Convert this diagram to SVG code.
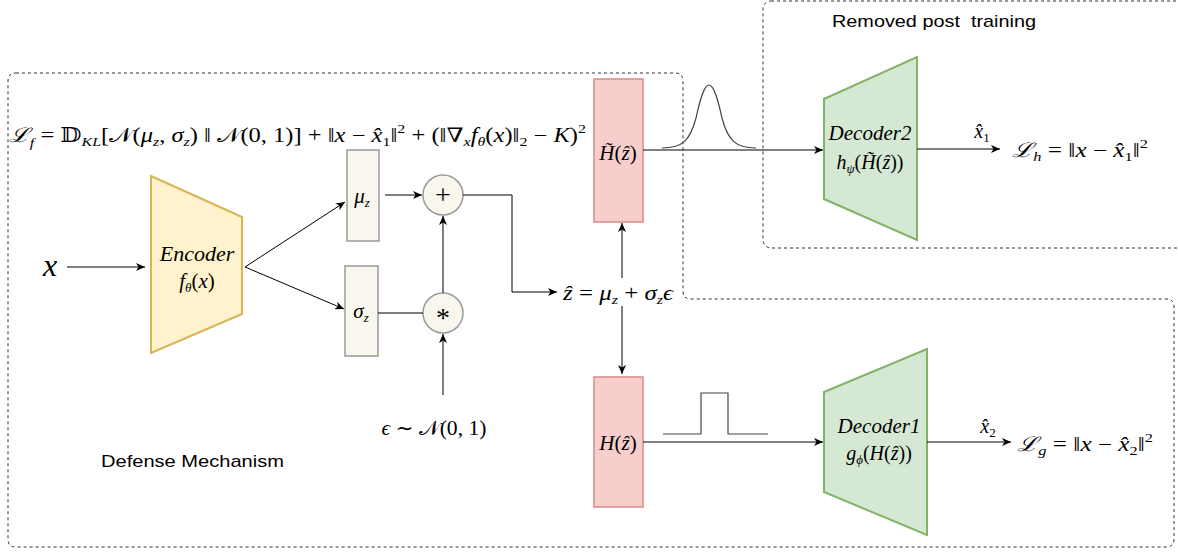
<svg xmlns="http://www.w3.org/2000/svg" width="1178" height="556" viewBox="0 0 1178 556">
<defs>
<marker id="arr" markerUnits="userSpaceOnUse" markerWidth="10" markerHeight="8" refX="9" refY="4" orient="auto">
<path d="M0,0 L9,4 L0,8 L2.5,4 Z" fill="#000"/>
</marker>
<style>
.m{font-family:"Liberation Serif","DejaVu Serif",serif;font-size:20px;fill:#000}
.i{font-style:italic}
.s{font-size:13px}
.sans{font-family:"Liberation Sans",Arial,sans-serif;font-size:17px;fill:#000}
.dash{fill:none;stroke:#333;stroke-width:1;stroke-dasharray:3 3}
.c{fill:none;stroke:#000;stroke-width:1}
.box{fill:#f9f7ed;stroke:#9a9a9a;stroke-width:1.5}
.red{fill:#f8cecc;stroke:#d88b88;stroke-width:1.5}
.grn{fill:#d5e8d4;stroke:#82b366;stroke-width:2}
.yel{fill:#fff2cc;stroke:#d6b656;stroke-width:2}
.sig{fill:none;stroke:#444;stroke-width:1.2}
</style>
</defs>
<rect width="1178" height="556" fill="#fff"/>

<g id="regions">
<path class="dash" d="M16,73 H675 Q683,73 683,81 V291 Q683,299 691,299 H1166 Q1174,299 1174,307 V539 Q1174,547 1166,547 H16 Q8,547 8,539 V81 Q8,73 16,73 Z"/>
<rect class="dash" x="763" y="1" width="430" height="247" rx="8"/>
<text class="sans" x="832" y="27" textLength="204" lengthAdjust="spacingAndGlyphs" xml:space="preserve">Removed post  training</text>
<text class="sans" x="101" y="467" textLength="183" lengthAdjust="spacingAndGlyphs">Defense Mechanism</text>
</g>

<g id="formula">
<text class="m" x="9" y="142" textLength="577" lengthAdjust="spacingAndGlyphs"><tspan class="i">ℒ</tspan><tspan class="s i" dy="5">f</tspan><tspan dy="-5"> = 𝔻</tspan><tspan class="s i" dy="4">KL</tspan><tspan dy="-4">[𝒩(</tspan><tspan class="i">μ</tspan><tspan class="s i" dy="4">z</tspan><tspan dy="-4">, </tspan><tspan class="i">σ</tspan><tspan class="s i" dy="4">z</tspan><tspan dy="-4">) ‖ 𝒩(0, 1)] + ‖</tspan><tspan class="i">x</tspan><tspan> − </tspan><tspan class="i">x̂</tspan><tspan class="s" dy="4">1</tspan><tspan dy="-4">‖</tspan><tspan class="s" dy="-9">2</tspan><tspan dy="9"> + (‖∇</tspan><tspan class="s i" dy="4">x</tspan><tspan class="i" dy="-4">f</tspan><tspan class="s i" dy="4">θ</tspan><tspan dy="-4">(</tspan><tspan class="i">x</tspan><tspan>)‖</tspan><tspan class="s" dy="4">2</tspan><tspan dy="-4"> − </tspan><tspan class="i">K</tspan><tspan>)</tspan><tspan class="s" dy="-9">2</tspan></text>
</g>

<g id="input">
<text class="m i" x="50" y="276" text-anchor="middle" style="font-size:32px">x</text>
</g>

<g id="encoder">
<polygon class="yel" points="151,176 242,217 242,314 151,353"/>
<text class="m i" x="197" y="261" text-anchor="middle" style="font-size:22px">Encoder</text>
<text class="m" x="197" y="288" text-anchor="middle" style="font-size:21px"><tspan class="i">f</tspan><tspan class="s i" dy="4">θ</tspan><tspan dy="-4">(</tspan><tspan class="i">x</tspan><tspan>)</tspan></text>
</g>

<g id="mu">
<rect class="box" x="347" y="150" width="32" height="91"/>
<text class="m" x="362" y="203" text-anchor="middle" style="font-size:21px"><tspan class="i">μ</tspan><tspan class="s i" dy="4">z</tspan></text>
</g>
<g id="sigma">
<rect class="box" x="345" y="266" width="33" height="90"/>
<text class="m" x="361" y="318" text-anchor="middle" style="font-size:21px"><tspan class="i">σ</tspan><tspan class="s i" dy="4">z</tspan></text>
</g>

<g id="plus">
<circle class="box" cx="443" cy="195" r="20"/>
<text class="m" x="443" y="204" text-anchor="middle" style="font-size:28px">+</text>
</g>
<g id="star">
<circle class="box" cx="443" cy="313" r="20"/>
<text class="m" x="443" y="327" text-anchor="middle" style="font-size:28px">*</text>
</g>

<g id="eps">
<text class="m" x="434" y="435" text-anchor="middle" textLength="105" lengthAdjust="spacingAndGlyphs"><tspan class="i">ϵ</tspan><tspan> ∼ 𝒩(0, 1)</tspan></text>
</g>

<g id="zhat">
<text class="m" x="563" y="300" textLength="110" lengthAdjust="spacingAndGlyphs"><tspan class="i">ẑ</tspan><tspan> = </tspan><tspan class="i">μ</tspan><tspan class="s i" dy="4">z</tspan><tspan dy="-4"> + </tspan><tspan class="i">σ</tspan><tspan class="s i" dy="4">z</tspan><tspan class="i" dy="-4">ϵ</tspan></text>
</g>

<g id="htilde">
<rect class="red" x="594" y="79" width="49" height="143"/>
<text class="m" x="618" y="160" text-anchor="middle" style="font-size:21px"><tspan class="i">H̃</tspan><tspan>(</tspan><tspan class="i">ẑ</tspan><tspan>)</tspan></text>
</g>
<g id="h">
<rect class="red" x="594" y="377" width="49" height="130"/>
<text class="m" x="618" y="450" text-anchor="middle" style="font-size:21px"><tspan class="i">H</tspan><tspan>(</tspan><tspan class="i">ẑ</tspan><tspan>)</tspan></text>
</g>

<g id="decoder2">
<polygon class="grn" points="824,99 917,57 917,240 824,199"/>
<text class="m i" x="870" y="140" text-anchor="middle" style="font-size:21px">Decoder2</text>
<text class="m" x="870" y="169" text-anchor="middle"><tspan class="i">h</tspan><tspan class="s i" dy="4">ψ</tspan><tspan dy="-4">(</tspan><tspan class="i">H̃</tspan><tspan>(</tspan><tspan class="i">ẑ</tspan><tspan>))</tspan></text>
</g>
<g id="decoder1">
<polygon class="grn" points="824,392 927,349 927,535 824,492"/>
<text class="m i" x="879" y="433" text-anchor="middle" style="font-size:21px">Decoder1</text>
<text class="m" x="879" y="460" text-anchor="middle"><tspan class="i">g</tspan><tspan class="s i" dy="4">ϕ</tspan><tspan dy="-4">(</tspan><tspan class="i">H</tspan><tspan>(</tspan><tspan class="i">ẑ</tspan><tspan>))</tspan></text>
</g>

<g id="loss-h">
<text class="m" x="982" y="138" text-anchor="middle"><tspan class="i">x̂</tspan><tspan class="s" dy="4">1</tspan></text>
<text class="m" x="1012" y="157" textLength="136" lengthAdjust="spacingAndGlyphs"><tspan class="i">ℒ</tspan><tspan class="s i" dy="4">h</tspan><tspan dy="-4"> = ‖</tspan><tspan class="i">x</tspan><tspan> − </tspan><tspan class="i">x̂</tspan><tspan class="s" dy="4">1</tspan><tspan dy="-4">‖</tspan><tspan class="s" dy="-9">2</tspan></text>
</g>
<g id="loss-g">
<text class="m" x="988" y="433" text-anchor="middle"><tspan class="i">x̂</tspan><tspan class="s" dy="4">2</tspan></text>
<text class="m" x="1017" y="451" textLength="136" lengthAdjust="spacingAndGlyphs"><tspan class="i">ℒ</tspan><tspan class="s i" dy="4">g</tspan><tspan dy="-4"> = ‖</tspan><tspan class="i">x</tspan><tspan> − </tspan><tspan class="i">x̂</tspan><tspan class="s" dy="4">2</tspan><tspan dy="-4">‖</tspan><tspan class="s" dy="-9">2</tspan></text>
</g>

<g id="signals">
<path class="sig" d="M662,148 C682,148 690,141 696,118 C700,100 704,85 709,85 C714,85 718,100 722,118 C728,141 736,148 756,148"/>
<path class="sig" d="M663,434 H701 V393 H728 V434 H768"/>
</g>

<g id="connectors">
<line class="c" x1="67" y1="267" x2="145" y2="267" marker-end="url(#arr)"/>
<line class="c" x1="245" y1="267" x2="345" y2="202" marker-end="url(#arr)"/>
<line class="c" x1="245" y1="267" x2="344" y2="309" marker-end="url(#arr)"/>
<line class="c" x1="385" y1="195" x2="422" y2="195" marker-end="url(#arr)"/>
<line class="c" x1="378" y1="313" x2="423" y2="313"/>
<line class="c" x1="443" y1="293" x2="443" y2="216" marker-end="url(#arr)"/>
<line class="c" x1="443" y1="395" x2="443" y2="334" marker-end="url(#arr)"/>
<polyline class="c" points="463,195 512,195 512,292 557,292" marker-end="url(#arr)"/>
<line class="c" x1="622" y1="278" x2="622" y2="223" marker-end="url(#arr)"/>
<line class="c" x1="622" y1="306" x2="622" y2="374" marker-end="url(#arr)"/>
<line class="c" x1="643" y1="150" x2="823" y2="150" marker-end="url(#arr)"/>
<line class="c" x1="643" y1="442" x2="823" y2="442" marker-end="url(#arr)"/>
<line class="c" x1="917" y1="149" x2="1000" y2="149" marker-end="url(#arr)"/>
<line class="c" x1="927" y1="442" x2="1011" y2="442" marker-end="url(#arr)"/>
</g>
</svg>
